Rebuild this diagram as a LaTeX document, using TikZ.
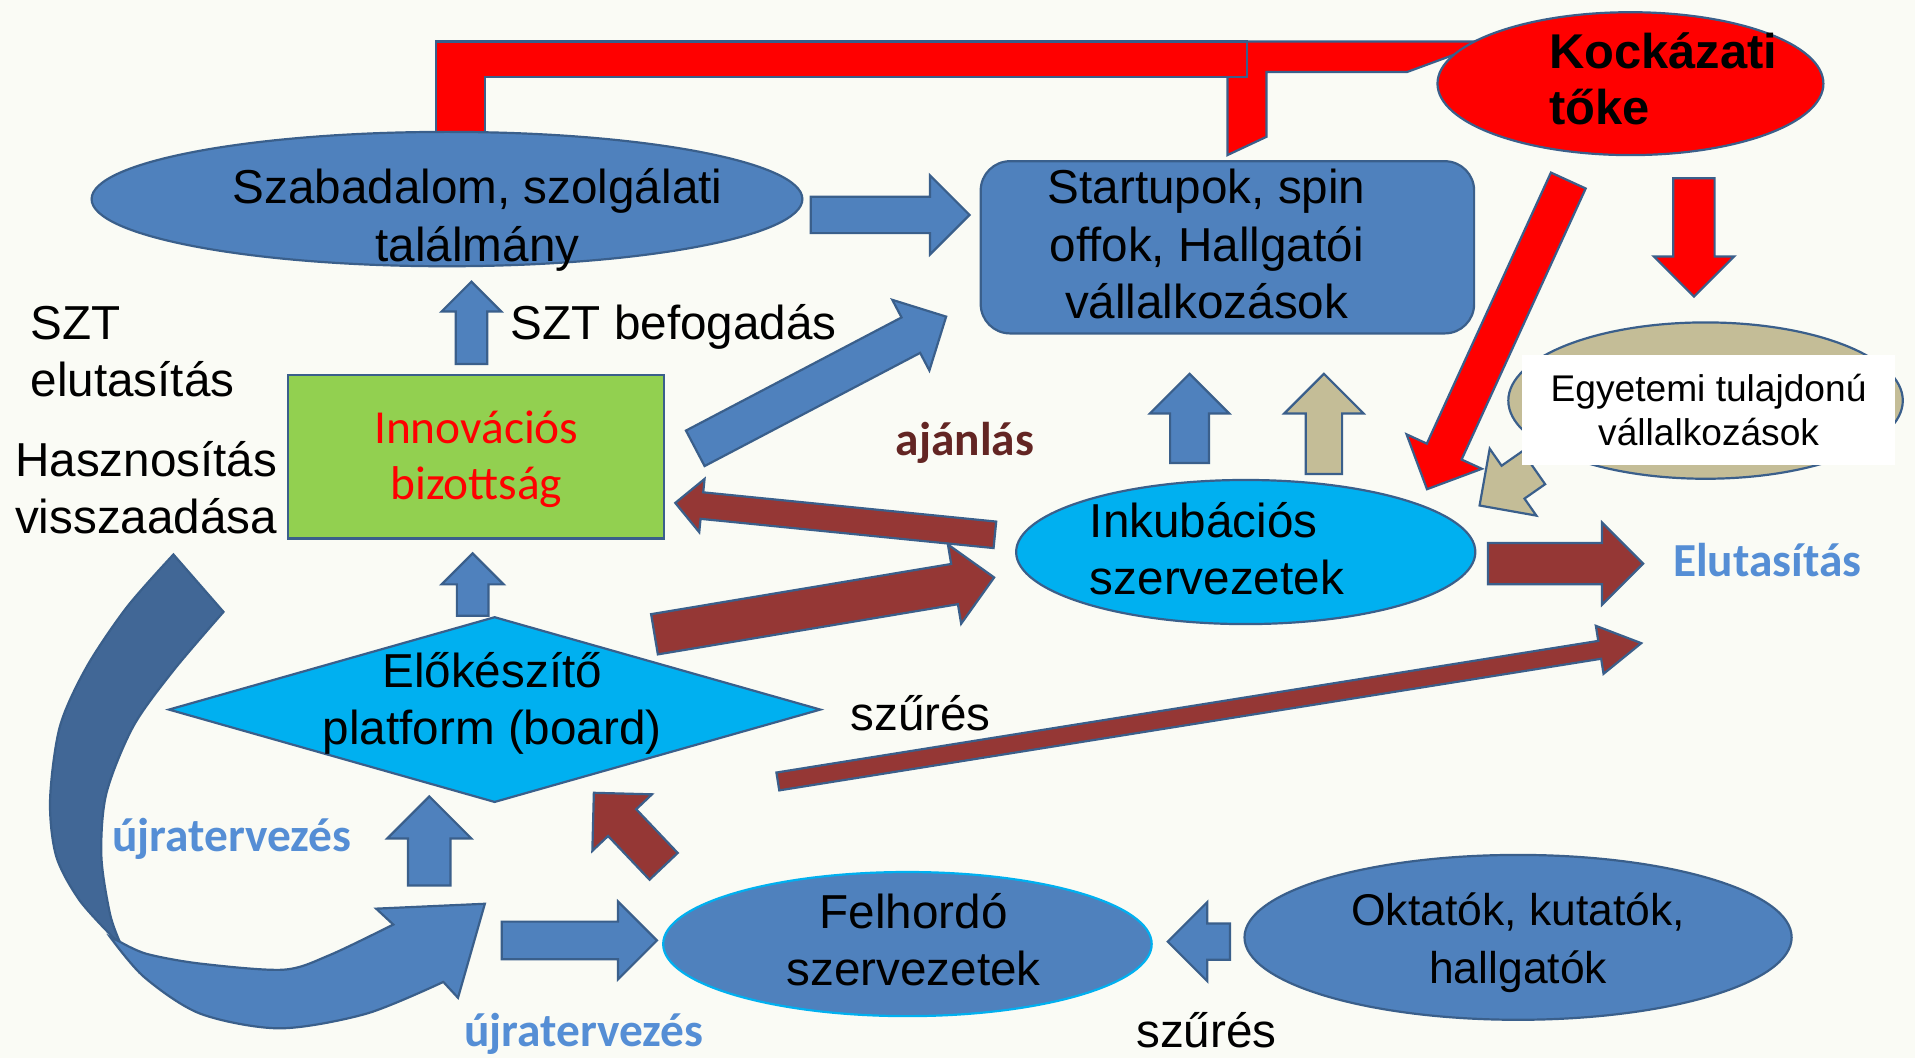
\documentclass[tikz,border=0pt]{standalone}
\usepackage{fontspec}
\setmainfont{Liberation Sans}
\newfontfamily\calibri{Carlito}
\usetikzlibrary{shapes.geometric,shapes.arrows}

\definecolor{paper}{HTML}{FAFBF5}
\definecolor{pptblue}{HTML}{4F81BD}
\definecolor{pptedge}{HTML}{3A5F8B}
\definecolor{curveback}{HTML}{416796}
\definecolor{skyfill}{HTML}{00B0F0}
\definecolor{leaf}{HTML}{92D050}
\definecolor{brick}{HTML}{953735}
\definecolor{sand}{HTML}{C4BD97}
\definecolor{maroon}{HTML}{632523}
\definecolor{labelblue}{HTML}{558ED5}

\tikzset{
    every node/.style={inner sep=0pt},
    outline/.style={draw=pptedge, line width=0.9pt},
    bluebody/.style={outline, fill=pptblue},
    redbody/.style={outline, fill=red},
    fatarrow/.style={single arrow, outline, anchor=tail},
    % length, shaft width, head width (in picture pixels)
    arrowdims/.style n args={3}{minimum height=#1*0.5pt, inner ysep=#2*0.25pt,
        single arrow head extend=(#3-#2)*0.25pt},
    bluearrow/.style={fatarrow, fill=pptblue},
    brickarrow/.style={fatarrow, fill=brick},
    redarrow/.style={fatarrow, fill=red},
    sandarrow/.style={fatarrow, fill=sand},
    txt/.style={font=\fontsize{19.5}{23.5}\selectfont},
    calbold/.style={font=\calibri\bfseries\fontsize{19.4}{23.5}\selectfont},
}

\begin{document}
\begin{tikzpicture}[x=0.5pt,y=-0.5pt]
    \useasboundingbox (0,0) rectangle (1568,866);
    \fill[paper] (0,0) rectangle (1568,866);

    % red bracket from the venture capital
    \draw[redbody] (1005,127) -- (1005,34) -- (1220,34) -- (1152,59) -- (1037,59) -- (1037,112) -- cycle;
    \draw[redbody] (357,112) -- (357,34) -- (1021,34) -- (1021,63) -- (397,63) -- (397,112) -- cycle;

    % boxes
    \node[ellipse, bluebody, minimum width=291pt, minimum height=55pt] (patent) at (366,163) {};
    \node[ellipse, redbody, minimum width=158pt, minimum height=58.5pt] (venture) at (1335,68.5) {};
    \node[rectangle, rounded corners=12pt, bluebody, minimum width=202pt, minimum height=70.5pt] (startup) at (1005,202.5) {};
    \node[ellipse, outline, fill=sand, minimum width=161.5pt, minimum height=64pt] (uniown) at (1396.5,328) {};
    \node[rectangle, outline, fill=leaf, minimum width=154pt, minimum height=67pt] (board) at (390,374) {};
    \node[diamond, outline, fill=skyfill, minimum width=267pt, minimum height=76pt] (prep) at (405,581) {};
    \node[ellipse, outline, fill=skyfill, minimum width=188pt, minimum height=59pt] (incub) at (1020,452) {};
    \node[ellipse, draw=skyfill, line width=0.9pt, fill=pptblue, minimum width=200pt, minimum height=59pt] (feeder) at (743,773) {};
    \node[ellipse, bluebody, minimum width=224pt, minimum height=67.5pt] (staff) at (1243,767.5) {};

    % redesign loop
    \draw[outline, fill=curveback] plot[smooth] coordinates {(142,454) (104,497) (71,546) (49,595) (41,655) (46,701) (65,737) (93,768)}
        -- plot[smooth] coordinates {(98,771) (90,748) (83,701) (87,650) (109,595) (142,549) (183,501)} -- cycle;
    \draw[bluebody] plot[smooth] coordinates {(90,767) (118,800) (164,830) (229,842) (300,830) (363,804)}
        -- (375,817) -- (397,740) -- (308,744) -- (322,757)
        -- plot[smooth] coordinates {(322,757) (270,782) (232,794) (164,789) (120,781) (98,771)} -- cycle;

    % block arrows
    \node[bluearrow, arrowdims={130}{28}{63}] (a1) at (663,176) {};
    \node[bluearrow, arrowdims={67.5}{24}{47}, rotate=90] (a2) at (386,299) {};
    \node[bluearrow, arrowdims={232}{31}{63.5}, rotate=27.7] (a3) at (568.5,367.5) {};
    \node[brickarrow, arrowdims={263}{20}{42}, rotate=174.3] (a4) at (815.5,438) {};
    \node[brickarrow, arrowdims={282}{31.6}{64}, rotate=9.5] (a5) at (535,519.5) {};
    \node[bluearrow, arrowdims={51}{24}{49}, rotate=90] (a6) at (387,505) {};
    \node[bluearrow, arrowdims={73}{30}{63}, rotate=90] (a7) at (974,380) {};
    \node[sandarrow, arrowdims={82}{28}{63}, rotate=90] (a8) at (1084,389) {};
    \node[redarrow, arrowdims={278}{29.5}{66}, rotate=245.4] (a9) at (1284.5,147) {};
    \node[redarrow, arrowdims={97}{32}{64}, rotate=270] (a10) at (1387,145) {};
    \node[sandarrow, arrowdims={54}{31}{65}, rotate=214.9] (a11) at (1256.5,382.5) {};
    \node[brickarrow, arrowdims={127}{32}{65.6}] (a12) at (1217.5,461.5) {};
    \node[brickarrow, arrowdims={716}{13}{38}, single arrow tip angle=60, rotate=9.1] (a13) at (636,640) {};
    \node[bluearrow, arrowdims={73}{33}{67}, rotate=90] (a14) at (351.5,726) {};
    \node[brickarrow, arrowdims={83}{30}{65.5}, rotate=133.5] (a15) at (544,710) {};
    \node[bluearrow, arrowdims={127}{29}{62}] (a16) at (410,770) {};
    \node[bluearrow, arrowdims={51}{28}{63}, rotate=180] (a17) at (1008,771) {};

    % texts (base = last line)
    \node[txt, align=center, anchor=base] (patentlbl) at (391,214) {Szabadalom, szolgálati\\találmány};
    \node[txt, align=center, anchor=base] (startuplbl) at (988,261) {Startupok, spin\\offok, Hallgatói\\vállalkozások};
    \node[font=\bfseries\fontsize{20}{23}\selectfont, align=left, anchor=base west] (venturelbl) at (1268,102) {Kockázati\\tőke};
    \node[rectangle, fill=white, minimum width=153pt, minimum height=45pt, align=center,
          font=\fontsize{15.2}{18}\selectfont] (uniownlbl) at (1399,336) {Egyetemi tulajdonú\\vállalkozások};
    \node[text=red, align=center, anchor=base, font=\calibri\fontsize{19.4}{23}\selectfont] (boardlbl) at (390,409) {Innovációs\\bizottság};
    \node[txt, align=left, anchor=base west] (incublbl) at (892,487) {Inkubációs\\szervezetek};
    \node[txt, align=center, anchor=base] (preplbl) at (403,610) {Előkészítő\\platform (board)};
    \node[txt, align=center, anchor=base] (feederlbl) at (748,807) {Felhordó\\szervezetek};
    \node[font=\fontsize{18.2}{23.5}\selectfont, align=center, anchor=base] (stafflbl) at (1243,805) {Oktatók, kutatók,\\hallgatók};
    \node[txt, align=left, anchor=base west] (rejectlbl) at (24.6,325) {SZT\\elutasítás};
    \node[txt, align=left, anchor=base west] (returnlbl) at (12,437) {Hasznosítás\\visszaadása};
    \node[txt, anchor=base west] (acceptlbl) at (418,278) {SZT befogadás};
    \node[calbold, text=maroon, anchor=base] (recommendlbl) at (790,373) {ajánlás};
    \node[calbold, text=labelblue, anchor=base] (droplbl) at (1447,472) {Elutasítás};
    \node[calbold, text=labelblue, anchor=base] (redolbl) at (190,697) {újratervezés};
    \node[calbold, text=labelblue, anchor=base] (redolbl2) at (478,857) {újratervezés};
    \node[txt, anchor=base west] (filterlbl) at (696,598) {szűrés};
    \node[txt, anchor=base west] (filterlbl2) at (930,858) {szűrés};
\end{tikzpicture}
\end{document}
